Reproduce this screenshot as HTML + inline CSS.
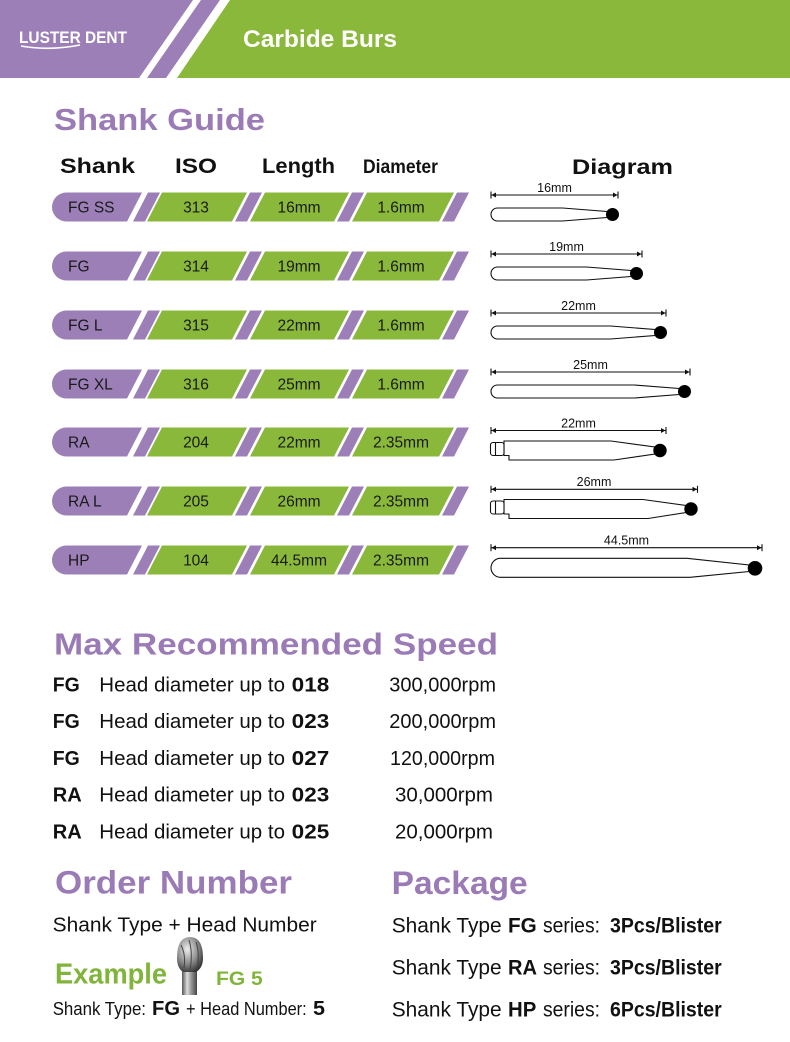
<!DOCTYPE html>
<html><head><meta charset="utf-8">
<style>
html,body{margin:0;padding:0;background:#fff;}
svg{display:block;}
text{font-family:"Liberation Sans",Arial,sans-serif;}
</style></head>
<body>
<svg width="790" height="1042" viewBox="0 0 790 1042" xmlns="http://www.w3.org/2000/svg">
<defs>
  <g id="band">
    <path d="M66.5,-14.5 H142 L127,14.5 H66.5 A14.5,14.5 0 0 1 66.5,-14.5 Z" fill="#9c7fb7"/>
    <polygon points="148,-14.5 160,-14.5 145,14.5 133,14.5" fill="#9c7fb7"/>
    <polygon points="162,-14.5 247,-14.5 232,14.5 147,14.5" fill="#89b83a"/>
    <polygon points="250,-14.5 262,-14.5 247,14.5 235,14.5" fill="#9c7fb7"/>
    <polygon points="265,-14.5 349,-14.5 334,14.5 250,14.5" fill="#89b83a"/>
    <polygon points="352,-14.5 364,-14.5 349,14.5 337,14.5" fill="#9c7fb7"/>
    <polygon points="367,-14.5 454,-14.5 439,14.5 352,14.5" fill="#89b83a"/>
    <polygon points="457,-14.5 469,-14.5 454,14.5 442,14.5" fill="#9c7fb7"/>
  </g>
  <linearGradient id="shk" x1="0" x2="1" y1="0" y2="0">
    <stop offset="0" stop-color="#555"/><stop offset="0.35" stop-color="#ddd"/><stop offset="0.6" stop-color="#999"/><stop offset="1" stop-color="#444"/>
  </linearGradient>
  <radialGradient id="hd" cx="0.4" cy="0.35" r="0.7">
    <stop offset="0" stop-color="#eee"/><stop offset="0.6" stop-color="#888"/><stop offset="1" stop-color="#333"/>
  </radialGradient>
</defs>

<!-- Header -->
<polygon points="0,0 193,0 139,78 0,78" fill="#9c7fb7"/>
<polygon points="201,0 220,0 166,78 147,78" fill="#9c7fb7"/>
<polygon points="230,0 790,0 790,78 177,78" fill="#89b83a"/>
<text x="19" y="43" font-size="17" font-weight="bold" fill="#fff" textLength="108" lengthAdjust="spacingAndGlyphs">LUSTER DENT</text>
<path d="M21,46 Q50,51 80,45" stroke="#fff" stroke-width="1.6" fill="none"/>
<text x="243" y="47" font-size="24" font-weight="bold" fill="#fff" textLength="154" lengthAdjust="spacingAndGlyphs">Carbide Burs</text>

<!-- Shank Guide -->
<text x="54" y="130" font-size="31" font-weight="bold" fill="#9b7bb6" textLength="211" lengthAdjust="spacingAndGlyphs">Shank Guide</text>
<g font-weight="bold" fill="#111" font-size="21">
  <text x="60" y="173" textLength="75" lengthAdjust="spacingAndGlyphs">Shank</text>
  <text x="175" y="173" textLength="42" lengthAdjust="spacingAndGlyphs">ISO</text>
  <text x="262" y="173" textLength="73" lengthAdjust="spacingAndGlyphs">Length</text>
  <text x="363" y="173" font-size="19" textLength="75" lengthAdjust="spacingAndGlyphs">Diameter</text>
  <text x="572" y="174" textLength="101" lengthAdjust="spacingAndGlyphs">Diagram</text>
</g>

<!-- Bands -->
<use href="#band" x="0" y="207"/>
<use href="#band" x="0" y="266"/>
<use href="#band" x="0" y="325"/>
<use href="#band" x="0" y="384"/>
<use href="#band" x="0" y="442"/>
<use href="#band" x="0" y="501"/>
<use href="#band" x="0" y="560"/>

<g font-size="15.5" fill="#1a1a1a">
  <text x="68" y="212.5">FG SS</text>
  <text x="196" y="212.5" text-anchor="middle">313</text>
  <text x="299" y="212.5" text-anchor="middle">16mm</text>
  <text x="401" y="212.5" text-anchor="middle">1.6mm</text>

  <text x="68" y="271.5">FG</text>
  <text x="196" y="271.5" text-anchor="middle">314</text>
  <text x="299" y="271.5" text-anchor="middle">19mm</text>
  <text x="401" y="271.5" text-anchor="middle">1.6mm</text>

  <text x="68" y="330.5">FG L</text>
  <text x="196" y="330.5" text-anchor="middle">315</text>
  <text x="299" y="330.5" text-anchor="middle">22mm</text>
  <text x="401" y="330.5" text-anchor="middle">1.6mm</text>

  <text x="68" y="389.5">FG XL</text>
  <text x="196" y="389.5" text-anchor="middle">316</text>
  <text x="299" y="389.5" text-anchor="middle">25mm</text>
  <text x="401" y="389.5" text-anchor="middle">1.6mm</text>

  <text x="68" y="447.5">RA</text>
  <text x="196" y="447.5" text-anchor="middle">204</text>
  <text x="299" y="447.5" text-anchor="middle">22mm</text>
  <text x="401" y="447.5" text-anchor="middle">2.35mm</text>

  <text x="68" y="506.5">RA L</text>
  <text x="196" y="506.5" text-anchor="middle">205</text>
  <text x="299" y="506.5" text-anchor="middle">26mm</text>
  <text x="401" y="506.5" text-anchor="middle">2.35mm</text>

  <text x="68" y="565.5">HP</text>
  <text x="196" y="565.5" text-anchor="middle">104</text>
  <text x="299" y="565.5" text-anchor="middle">44.5mm</text>
  <text x="401" y="565.5" text-anchor="middle">2.35mm</text>
</g>

<!-- Diagrams -->
<g stroke="#111" stroke-width="1.1" fill="#fff" font-size="12.5">
  <!-- FG SS -->
  <g transform="translate(0,207)">
    <line x1="491" y1="-12" x2="618" y2="-12"/>
    <line x1="491" y1="-15.5" x2="491" y2="-8.5"/><line x1="618" y1="-15.5" x2="618" y2="-8.5"/>
    <polygon points="491.5,-12 496,-14.5 496,-9.5" fill="#111" stroke="none"/>
    <polygon points="617.5,-12 613,-14.5 613,-9.5" fill="#111" stroke="none"/>
    <text x="554.5" y="-15" text-anchor="middle" fill="#111" stroke="none">16mm</text>
    <path d="M497.5,1 H562.5 L607,4.5 V10.5 L562.5,14 H497.5 A6.5,6.5 0 0 1 497.5,1 Z"/>
    <circle cx="612.5" cy="7.5" r="6.5" fill="#000" stroke="none"/>
  </g>
  <!-- FG -->
  <g transform="translate(0,266)">
    <line x1="491" y1="-12" x2="642" y2="-12"/>
    <line x1="491" y1="-15.5" x2="491" y2="-8.5"/><line x1="642" y1="-15.5" x2="642" y2="-8.5"/>
    <polygon points="491.5,-12 496,-14.5 496,-9.5" fill="#111" stroke="none"/>
    <polygon points="641.5,-12 637,-14.5 637,-9.5" fill="#111" stroke="none"/>
    <text x="566.5" y="-15" text-anchor="middle" fill="#111" stroke="none">19mm</text>
    <path d="M497.5,1 H586.5 L631,4.5 V10.5 L586.5,14 H497.5 A6.5,6.5 0 0 1 497.5,1 Z"/>
    <circle cx="636.5" cy="7.5" r="6.5" fill="#000" stroke="none"/>
  </g>
  <!-- FG L -->
  <g transform="translate(0,325)">
    <line x1="491" y1="-12" x2="666" y2="-12"/>
    <line x1="491" y1="-15.5" x2="491" y2="-8.5"/><line x1="666" y1="-15.5" x2="666" y2="-8.5"/>
    <polygon points="491.5,-12 496,-14.5 496,-9.5" fill="#111" stroke="none"/>
    <polygon points="665.5,-12 661,-14.5 661,-9.5" fill="#111" stroke="none"/>
    <text x="578.5" y="-15" text-anchor="middle" fill="#111" stroke="none">22mm</text>
    <path d="M497.5,1 H610.5 L655,4.5 V10.5 L610.5,14 H497.5 A6.5,6.5 0 0 1 497.5,1 Z"/>
    <circle cx="660.5" cy="7.5" r="6.5" fill="#000" stroke="none"/>
  </g>
  <!-- FG XL -->
  <g transform="translate(0,384)">
    <line x1="491" y1="-12" x2="690" y2="-12"/>
    <line x1="491" y1="-15.5" x2="491" y2="-8.5"/><line x1="690" y1="-15.5" x2="690" y2="-8.5"/>
    <polygon points="491.5,-12 496,-14.5 496,-9.5" fill="#111" stroke="none"/>
    <polygon points="689.5,-12 685,-14.5 685,-9.5" fill="#111" stroke="none"/>
    <text x="590.5" y="-15" text-anchor="middle" fill="#111" stroke="none">25mm</text>
    <path d="M497.5,1 H634.5 L679,4.5 V10.5 L634.5,14 H497.5 A6.5,6.5 0 0 1 497.5,1 Z"/>
    <circle cx="684.5" cy="7.5" r="6.5" fill="#000" stroke="none"/>
  </g>
  <!-- RA -->
  <g transform="translate(0,442)">
    <line x1="491" y1="-11.5" x2="666" y2="-11.5"/>
    <line x1="491" y1="-15" x2="491" y2="-8"/><line x1="666" y1="-15" x2="666" y2="-8"/>
    <polygon points="491.5,-11.5 496,-14 496,-9" fill="#111" stroke="none"/>
    <polygon points="665.5,-11.5 661,-14 661,-9" fill="#111" stroke="none"/>
    <text x="578.5" y="-14.5" text-anchor="middle" fill="#111" stroke="none">22mm</text>
    <path d="M504,-1 H611 L655,5 V12 L614,18 H509 V13.5 H504 Z"/>
    <rect x="490.5" y="0.5" width="13.5" height="13" rx="2.5"/>
    <line x1="495.5" y1="0.5" x2="495.5" y2="13.5"/>
    <circle cx="660" cy="8.5" r="6.7" fill="#000" stroke="none"/>
  </g>
  <!-- RA L -->
  <g transform="translate(0,501)">
    <line x1="491" y1="-11.7" x2="697.5" y2="-11.7"/>
    <line x1="491" y1="-15.2" x2="491" y2="-8.2"/><line x1="697.5" y1="-15.2" x2="697.5" y2="-8.2"/>
    <polygon points="491.5,-11.7 496,-14.2 496,-9.2" fill="#111" stroke="none"/>
    <polygon points="697,-11.7 692.5,-14.2 692.5,-9.2" fill="#111" stroke="none"/>
    <text x="594" y="-15" text-anchor="middle" fill="#111" stroke="none">26mm</text>
    <path d="M504,-1.5 H643 L686,4.5 V11.5 L648,17.5 H509 V13 H504 Z"/>
    <rect x="490.5" y="0" width="13.5" height="13" rx="2.5"/>
    <line x1="495.5" y1="0" x2="495.5" y2="13"/>
    <circle cx="691" cy="8" r="6.7" fill="#000" stroke="none"/>
  </g>
  <!-- HP -->
  <g transform="translate(0,560)">
    <line x1="491" y1="-12.3" x2="762" y2="-12.3"/>
    <line x1="491" y1="-15.8" x2="491" y2="-8.8"/><line x1="762" y1="-15.8" x2="762" y2="-8.8"/>
    <polygon points="491.5,-12.3 496,-14.8 496,-9.8" fill="#111" stroke="none"/>
    <polygon points="761.5,-12.3 757,-14.8 757,-9.8" fill="#111" stroke="none"/>
    <text x="626.5" y="-15.3" text-anchor="middle" fill="#111" stroke="none">44.5mm</text>
    <path d="M500.5,-1.7 H687 L749,5 V11.5 L690,17.3 H500.5 A9.5,9.5 0 0 1 500.5,-1.7 Z"/>
    <circle cx="755" cy="8.3" r="7.3" fill="#000" stroke="none"/>
  </g>
</g>

<!-- Max Recommended Speed -->
<text x="54" y="654.3" font-size="31" font-weight="bold" fill="#9b7bb6" textLength="444" lengthAdjust="spacingAndGlyphs">Max Recommended Speed</text>
<g font-size="20.5" fill="#111">
  <text x="52.7" y="691.5" font-weight="bold" textLength="27" lengthAdjust="spacingAndGlyphs">FG</text>
  <text x="99.3" y="691.5" textLength="185.7" lengthAdjust="spacingAndGlyphs">Head diameter up to</text>
  <text x="291.7" y="691.5" font-weight="bold" textLength="37.6" lengthAdjust="spacingAndGlyphs">018</text>
  <text x="389.3" y="691.5" textLength="106.7" lengthAdjust="spacingAndGlyphs">300,000rpm</text>

  <text x="52.7" y="728.2" font-weight="bold" textLength="27" lengthAdjust="spacingAndGlyphs">FG</text>
  <text x="99.3" y="728.2" textLength="185.7" lengthAdjust="spacingAndGlyphs">Head diameter up to</text>
  <text x="291.7" y="728.2" font-weight="bold" textLength="37.6" lengthAdjust="spacingAndGlyphs">023</text>
  <text x="389.3" y="728.2" textLength="106.7" lengthAdjust="spacingAndGlyphs">200,000rpm</text>

  <text x="52.7" y="764.9" font-weight="bold" textLength="27" lengthAdjust="spacingAndGlyphs">FG</text>
  <text x="99.3" y="764.9" textLength="185.7" lengthAdjust="spacingAndGlyphs">Head diameter up to</text>
  <text x="291.7" y="764.9" font-weight="bold" textLength="37.6" lengthAdjust="spacingAndGlyphs">027</text>
  <text x="390" y="764.9" textLength="105" lengthAdjust="spacingAndGlyphs">120,000rpm</text>

  <text x="52.7" y="801.6" font-weight="bold" textLength="29" lengthAdjust="spacingAndGlyphs">RA</text>
  <text x="99.3" y="801.6" textLength="185.7" lengthAdjust="spacingAndGlyphs">Head diameter up to</text>
  <text x="291.7" y="801.6" font-weight="bold" textLength="37.6" lengthAdjust="spacingAndGlyphs">023</text>
  <text x="395" y="801.6" textLength="98" lengthAdjust="spacingAndGlyphs">30,000rpm</text>

  <text x="52.7" y="838.3" font-weight="bold" textLength="29" lengthAdjust="spacingAndGlyphs">RA</text>
  <text x="99.3" y="838.3" textLength="185.7" lengthAdjust="spacingAndGlyphs">Head diameter up to</text>
  <text x="291.7" y="838.3" font-weight="bold" textLength="37.6" lengthAdjust="spacingAndGlyphs">025</text>
  <text x="395" y="838.3" textLength="98" lengthAdjust="spacingAndGlyphs">20,000rpm</text>
</g>

<!-- Order Number -->
<text x="55" y="893.3" font-size="32" font-weight="bold" fill="#9b7bb6" textLength="237" lengthAdjust="spacingAndGlyphs">Order Number</text>
<text x="52.7" y="931.7" font-size="20.5" fill="#111" textLength="264" lengthAdjust="spacingAndGlyphs">Shank Type + Head Number</text>
<text x="55" y="983.3" font-size="29" font-weight="bold" fill="#80b43a" textLength="112" lengthAdjust="spacingAndGlyphs">Example</text>
<!-- bur image -->
<rect x="182" y="965" width="15" height="30" fill="url(#shk)"/>
<path d="M177,958 Q177,937 190,937 Q203,937 203,958 Q203,968 196,972 H183 Q177,968 177,958 Z" fill="url(#hd)"/>
<path d="M181,945 Q186,955 184,968 M189,940 Q193,952 190,970 M196,942 Q200,954 197,968" stroke="#444" stroke-width="1" fill="none"/>
<text x="216" y="985" font-size="19" font-weight="bold" fill="#80b43a" textLength="46.7" lengthAdjust="spacingAndGlyphs">FG 5</text>
<g fill="#111">
  <text x="52.7" y="1015" font-size="18.5" textLength="93.3" lengthAdjust="spacingAndGlyphs">Shank Type:</text>
  <text x="152" y="1015" font-size="20" font-weight="bold" textLength="28" lengthAdjust="spacingAndGlyphs">FG</text>
  <text x="186" y="1015" font-size="18.5" textLength="120.7" lengthAdjust="spacingAndGlyphs">+ Head Number:</text>
  <text x="313" y="1015" font-size="20" font-weight="bold" textLength="12" lengthAdjust="spacingAndGlyphs">5</text>
</g>

<!-- Package -->
<text x="391.7" y="894" font-size="32" font-weight="bold" fill="#9b7bb6" textLength="136" lengthAdjust="spacingAndGlyphs">Package</text>
<g font-size="21" fill="#111">
  <text x="391.7" y="932.7" textLength="110" lengthAdjust="spacingAndGlyphs">Shank Type</text>
  <text x="508" y="932.7" font-weight="bold" textLength="28.7" lengthAdjust="spacingAndGlyphs">FG</text>
  <text x="543" y="932.7" textLength="57" lengthAdjust="spacingAndGlyphs">series:</text>
  <text x="610" y="932.7" font-weight="bold" textLength="111.7" lengthAdjust="spacingAndGlyphs">3Pcs/Blister</text>

  <text x="391.7" y="974.3" textLength="110" lengthAdjust="spacingAndGlyphs">Shank Type</text>
  <text x="508" y="974.3" font-weight="bold" textLength="29" lengthAdjust="spacingAndGlyphs">RA</text>
  <text x="543" y="974.3" textLength="57" lengthAdjust="spacingAndGlyphs">series:</text>
  <text x="610" y="974.3" font-weight="bold" textLength="111.7" lengthAdjust="spacingAndGlyphs">3Pcs/Blister</text>

  <text x="391.7" y="1016.7" textLength="110" lengthAdjust="spacingAndGlyphs">Shank Type</text>
  <text x="508" y="1016.7" font-weight="bold" textLength="28.3" lengthAdjust="spacingAndGlyphs">HP</text>
  <text x="543" y="1016.7" textLength="57" lengthAdjust="spacingAndGlyphs">series:</text>
  <text x="610" y="1016.7" font-weight="bold" textLength="111.7" lengthAdjust="spacingAndGlyphs">6Pcs/Blister</text>
</g>
</svg>
</body></html>
